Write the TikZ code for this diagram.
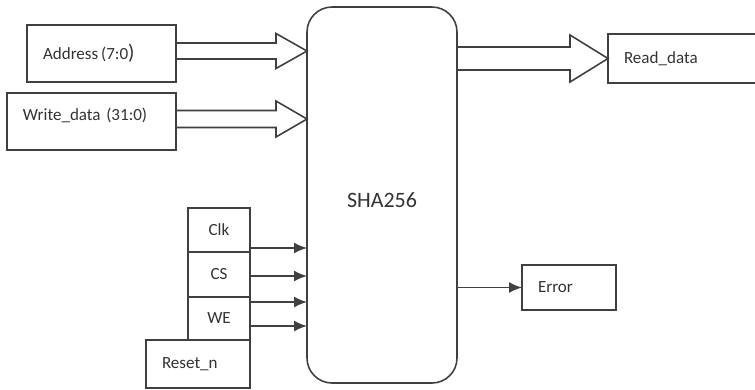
\documentclass[tikz,border=0pt]{standalone}
\usepackage{fontspec}
\setmainfont{Carlito}
\definecolor{blockLine}{HTML}{404040}
\definecolor{blockText}{HTML}{333333}
\usetikzlibrary{arrows.meta, positioning, calc}
% hollow bus arrow: from, to, half shaft, half head, head length
\newcommand{\busarrow}[5]{%
  \draw[bus] let \p1=(#1), \p2=(#2) in
    (\x1,\y1+#3) -- (\x2-#5,\y1+#3) -- (\x2-#5,\y1+#4) -- (\x2,\y1)
    -- (\x2-#5,\y1-#4) -- (\x2-#5,\y1-#3) -- (\x1,\y1-#3) -- cycle;}

\begin{document}
\begin{tikzpicture}[
    node distance=0cm,
    port/.style={
      draw=blockLine,
      fill=white,
      text=blockText,
      line width=0.9pt,
      outer sep=0pt,
      inner xsep=0.32cm,
      inner ysep=0pt,
      align=left,
      font=\fontsize{9.7}{11.6}\selectfont,
    },
    ctl/.style={port, minimum width=1.24cm, inner xsep=0pt, align=center},
    core/.style={
      rounded corners=0.5cm,
      draw=blockLine,
      text=blockText,
      line width=0.9pt,
      outer sep=0pt,
      minimum width=3cm,
      minimum height=7.52cm,
      font=\fontsize{12.5}{15}\selectfont,
    },
    bus/.style={draw=blockLine, fill=white, line width=0.9pt},
    sig/.style={-{Latex[length=0.26cm, width=0.22cm]}, blockLine, line width=0.9pt},
  ]
    \useasboundingbox (0,0) rectangle (15.1,-7.78);
    \clip (0,0) rectangle (15.1,-7.78);

    \node[core, text height=0.5cm] (sha) at (7.64,-3.9) {SHA256};

    \node[port, text width=2.34cm, minimum height=1.14cm] (addr) at (2.03,-1.07) {Address\,(7:0{\large)}};
    \node[port, text width=2.74cm, minimum height=1.14cm, text depth=0.3cm,
      below=0.22cm of addr.south east, anchor=north east] (wdata) {Write\_data (31:0)};
    \node[port, text width=2.56cm, minimum height=0.98cm, anchor=west] (rdata) at (12.16,-1.17) {Read\_data};

    \node[ctl, minimum height=0.88cm, anchor=north east] (clk) at (5,-4.16) {Clk};
    \node[ctl, minimum height=0.9cm, below=of clk] (cs) {CS};
    \node[ctl, minimum height=0.86cm, below=of cs] (we) {WE};
    \node[port, text width=1.44cm, minimum height=0.96cm, anchor=north east] (rst) at (we.south east) {Reset\_n};

    \node[port, text width=1.24cm, minimum height=0.9cm, anchor=west] (err) at (10.44,-5.75) {Error};

    % data buses
    \coordinate (a1) at ([yshift=0.05cm]addr.east);
    \coordinate (w1) at ([yshift=0.05cm]wdata.east);
    \busarrow{a1}{sha.west}{0.16cm}{0.35cm}{0.62cm}
    \busarrow{w1}{sha.west}{0.17cm}{0.36cm}{0.62cm}
    \busarrow{rdata.west -| sha.east}{rdata.west}{0.23cm}{0.47cm}{0.76cm}

    % control lines
    \coordinate (s1) at ([yshift=0.08cm]clk.south east);
    \coordinate (s2) at ([yshift=-0.03cm]cs.east);
    \coordinate (s3) at ([yshift=-0.1cm]we.north east);
    \coordinate (s4) at ([yshift=0.28cm]we.south east);
    \foreach \s in {s1,s2,s3,s4}
      \draw[sig] (\s) -- (\s -| sha.west);

    \draw[sig] (err.west -| sha.east) -- (err.west);
  \end{tikzpicture}
\end{document}
